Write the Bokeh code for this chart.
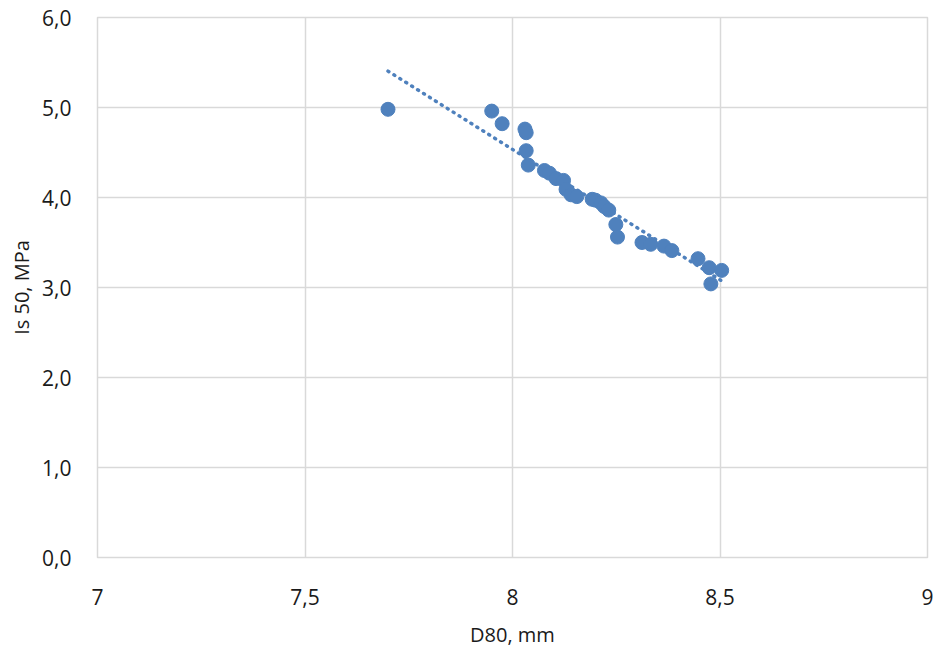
import numpy as np
from bokeh.plotting import figure
from bokeh.models import FixedTicker, ColumnDataSource
from bokeh.embed import file_html
from bokeh.resources import INLINE

# ---- data ----
d80 = [7.70, 7.95, 7.975, 8.03, 8.033, 8.033, 8.038, 8.077, 8.089, 8.105,
       8.123, 8.129, 8.141, 8.155, 8.192, 8.200, 8.213, 8.221, 8.232, 8.249,
       8.253, 8.312, 8.333, 8.365, 8.384, 8.447, 8.474, 8.504, 8.478]
is50 = [4.98, 4.96, 4.82, 4.76, 4.72, 4.52, 4.36, 4.30, 4.27, 4.21,
        4.19, 4.09, 4.03, 4.01, 3.98, 3.97, 3.94, 3.90, 3.86, 3.70,
        3.56, 3.50, 3.48, 3.46, 3.41, 3.32, 3.22, 3.19, 3.04]

x_ticks = [7, 7.5, 8, 8.5, 9]
x_tick_labels = ["7", "7,5", "8", "8,5", "9"]
y_ticks = [0, 1, 2, 3, 4, 5, 6]
y_tick_labels = ["0,0", "1,0", "2,0", "3,0", "4,0", "5,0", "6,0"]

x_title = "D80, mm"
y_title = "Is 50, MPa"

# linear trendline (least squares on the data)
slope, intercept = np.polyfit(d80, is50, 1)
trend_x = [min(d80), max(d80)]
trend_y = [slope * v + intercept for v in trend_x]

FONT = "Open Sans"
GRID = "#d9d9d9"
BLUE = "#4F81BD"
TEXT = "#1a1a1a"

p = figure(
    frame_width=830, frame_height=540,
    min_border_left=97, min_border_right=8, min_border_top=17, min_border_bottom=97,
    x_range=(7, 9), y_range=(0, 6),
    output_backend="svg", toolbar_location=None,
    background_fill_color="white", border_fill_color="white",
)
p.outline_line_color = GRID
p.outline_line_width = 1.5

for ax in (p.xaxis, p.yaxis):
    ax.axis_line_color = None
    ax.major_tick_line_color = None
    ax.minor_tick_line_color = None
    ax.major_label_text_font = FONT
    ax.major_label_text_font_size = "21px"
    ax.major_label_text_color = TEXT
    ax.axis_label_text_font = FONT
    ax.axis_label_text_font_size = "20px"
    ax.axis_label_text_font_style = "normal"
    ax.axis_label_text_color = TEXT

p.xaxis.ticker = FixedTicker(ticks=x_ticks)
p.xaxis.major_label_overrides = dict(zip(x_ticks, x_tick_labels))
p.yaxis.ticker = FixedTicker(ticks=y_ticks)
p.yaxis.major_label_overrides = dict(zip(y_ticks, y_tick_labels))
p.xaxis.axis_label = x_title
p.yaxis.axis_label = y_title
p.xaxis.major_label_standoff = 25
p.xaxis.axis_label_standoff = 13
p.yaxis.major_label_standoff = 20
p.yaxis.axis_label_standoff = 4

p.xgrid.grid_line_color = GRID
p.ygrid.grid_line_color = GRID
p.xgrid.grid_line_width = 1.5
p.ygrid.grid_line_width = 1.5

p.line(trend_x, trend_y, line_color=BLUE, line_width=3.5, line_dash="1 6", line_cap="round")

src = ColumnDataSource(dict(x=d80, y=is50))
p.scatter("x", "y", source=src, size=14, fill_color=BLUE, line_color=BLUE)

open("out.html", "w").write(file_html(p, INLINE))
